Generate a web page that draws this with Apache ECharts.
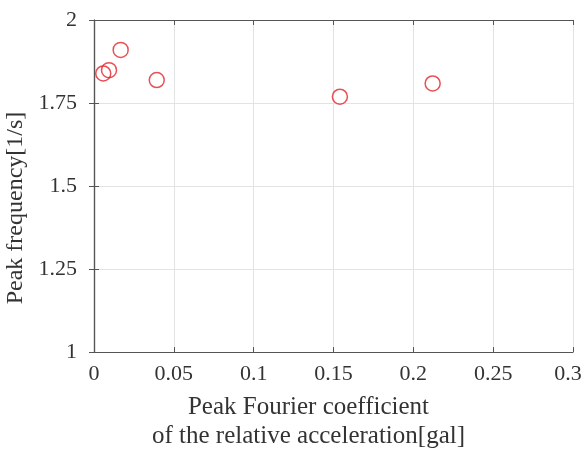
<!DOCTYPE html>
<html>
<head>
<meta charset="utf-8">
<script src="https://cdn.jsdelivr.net/npm/echarts@6/dist/echarts.min.js"></script>
<style>
  html, body { margin: 0; padding: 0; background: #fff; }
  #chart { width: 584px; height: 450px; }
</style>
</head>
<body>
<div id="chart"></div>
<script>
// peak Fourier coefficient [gal] vs peak frequency [1/s]
var fourierCoef = [0.0058, 0.0094, 0.0167, 0.0393, 0.154, 0.2121];
var peakFreq = [1.839, 1.849, 1.910, 1.819, 1.769, 1.809];
var yTicks = ['1', '1.25', '1.5', '1.75', '2'];

var points = fourierCoef.map(function (x, i) { return [x, peakFreq[i]]; });

var font = 'Liberation Serif';
var axisCol = '#555';

var chart = echarts.init(document.getElementById('chart'));
chart.setOption({
    animation: false,
    grid: { left: 94, right: 11, top: 20, bottom: 98, outerBoundsMode: 'none' },
    xAxis: [
        {
            type: 'value', min: 0, max: 0.3, interval: 0.05,
            name: 'Peak Fourier coefficient\nof the relative acceleration[gal]',
            nameLocation: 'middle', nameGap: 41,
            nameTextStyle: { fontFamily: font, fontSize: 25, color: '#333', lineHeight: 29,
                padding: [0, 50, 0, 0] },
            axisLine: { show: true, onZero: false, lineStyle: { color: axisCol, width: 1.2 } },
            axisTick: { inside: true, length: 5, lineStyle: { color: axisCol } },
            axisLabel: { fontFamily: font, fontSize: 22, color: '#333', margin: 11,
                formatter: function (v) {
                    var s = String(+v.toFixed(2));
                    return v >= 0.3 ? '{last|' + s + '}' : s;
                },
                rich: { last: { fontFamily: font, fontSize: 22, color: '#333', padding: [0, 10, 0, 0] } } },
            splitLine: { show: true, lineStyle: { color: '#e3e3e3' } }
        },
        {
            type: 'value', min: 0, max: 0.3, interval: 0.05, position: 'top',
            axisLine: { show: true, lineStyle: { color: axisCol, width: 1.2 } },
            axisTick: { inside: true, length: 5, lineStyle: { color: axisCol } },
            axisLabel: { show: false }, splitLine: { show: false }
        }
    ],
    yAxis: [
        {
            type: 'value', min: 1, max: 2, interval: 0.25,
            name: 'Peak frequency[1/s]',
            nameLocation: 'middle', nameGap: 66,
            nameTextStyle: { fontFamily: font, fontSize: 24, color: '#333', padding: [0, 44, 0, 0] },
            axisLine: { show: true, onZero: false, lineStyle: { color: axisCol, width: 1.2 } },
            axisTick: { inside: true, length: 5, lineStyle: { color: axisCol } },
            axisLabel: { fontFamily: font, fontSize: 22, color: '#333', margin: 17,
                formatter: function (v) {
                    var i = Math.round((v - 1) / 0.25);
                    return yTicks[i];
                } },
            splitLine: { show: true, lineStyle: { color: '#e3e3e3' } }
        },
        {
            type: 'value', min: 1, max: 2, interval: 0.25, position: 'right',
            axisLine: { show: true, lineStyle: { color: axisCol, width: 1.2 } },
            axisTick: { inside: true, length: 5, lineStyle: { color: axisCol } },
            axisLabel: { show: false }, splitLine: { show: false }
        }
    ],
    series: [{
        type: 'scatter',
        data: points,
        symbol: 'circle',
        symbolSize: 15,
        itemStyle: { color: 'rgba(255,255,255,0)', borderColor: '#e3242b', borderWidth: 1.5 }
    }]
});
</script>
</body>
</html>
